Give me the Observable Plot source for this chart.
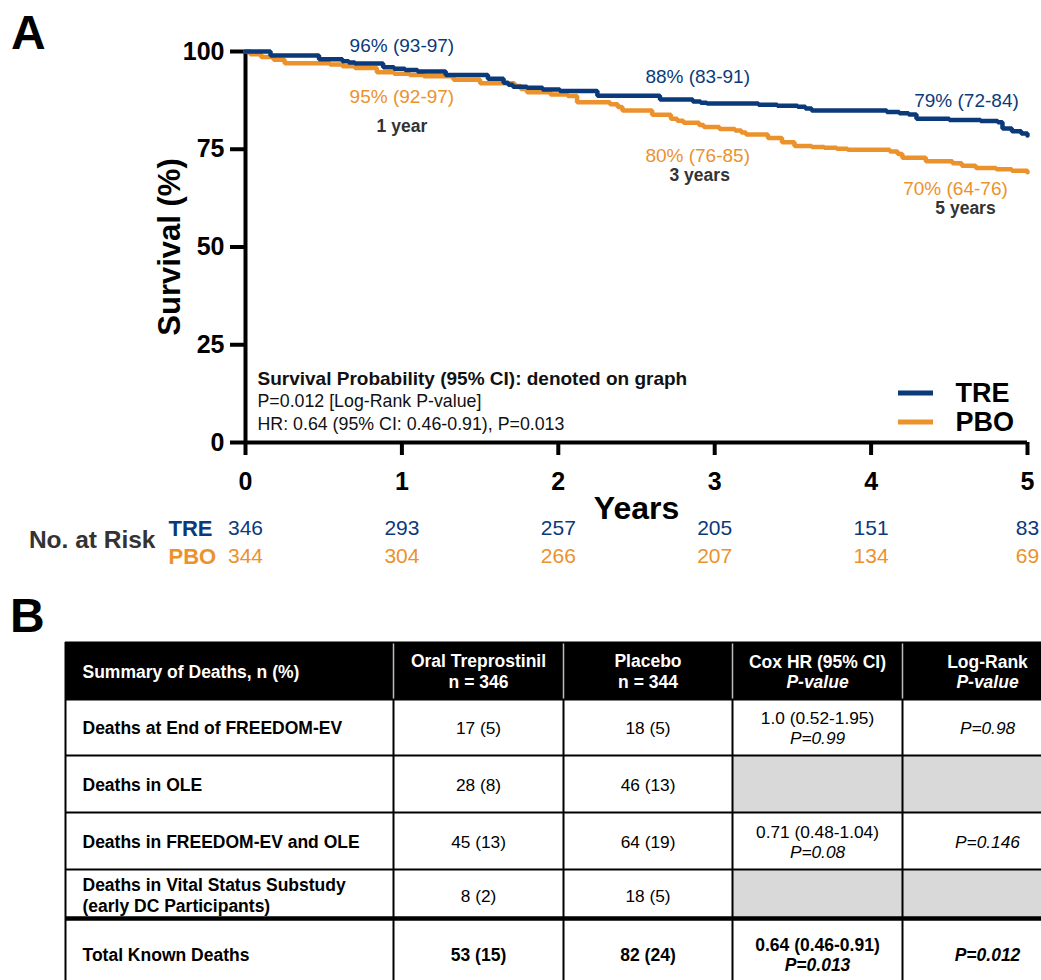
<!DOCTYPE html>
<html>
<head>
<meta charset="utf-8">
<script src="https://cdn.jsdelivr.net/npm/d3@7"></script>
<script src="https://cdn.jsdelivr.net/npm/@observablehq/plot@0.6"></script>
<style>
  html, body { margin: 0; padding: 0; background: #fff; overflow: hidden; }
  #wrap { position: relative; width: 1041px; height: 980px; overflow: hidden; font-family: "Liberation Sans", Arial, sans-serif; }
  .panel-letter { position: absolute; font-weight: bold; font-size: 48px; line-height: 1; color: #000; }
  #chartA, #chartB { position: absolute; left: 0; }
  #chartA { top: 0; }
  #chartB { top: 590px; }
  svg { overflow: hidden; }
</style>
</head>
<body>
<div id="wrap">
  <div id="chartA"></div>
  <div id="chartB"></div>
  <div class="panel-letter" style="left:11px; top:9px;">A</div>
  <div class="panel-letter" style="left:10px; top:592px;">B</div>
</div>
<script>
// ---------------- DATA ----------------
const arms = ["TRE", "PBO"];
const armColors = ["#0b3a7a", "#eb922d"];

// Kaplan–Meier curves (years, survival %)
const treTime = [0, 0.16, 0.47, 0.62, 0.66, 0.70, 0.88, 0.95, 1.02, 1.10, 1.28, 1.55, 1.65, 1.68, 1.71, 1.80, 1.90, 2.01, 2.25, 2.65, 2.86, 2.91, 2.95, 3.28, 3.40, 3.53, 3.58, 3.62, 4.10, 4.18, 4.24, 4.29, 4.50, 4.70, 4.81, 4.84, 4.90, 4.96, 5.0];
const treSurv = [100, 99.0, 98.0, 97.5, 97.2, 96.9, 96.0, 95.6, 95.3, 94.9, 94.0, 93.0, 92.0, 91.5, 91.0, 90.7, 90.3, 89.9, 88.7, 87.7, 87.2, 86.9, 86.7, 86.4, 86.1, 85.9, 85.4, 84.9, 84.5, 84.2, 83.9, 82.8, 82.5, 82.2, 81.9, 80.3, 79.6, 79.0, 78.5];
const pboTime = [0, 0.03, 0.10, 0.18, 0.25, 0.54, 0.62, 0.70, 0.84, 0.95, 1.05, 1.14, 1.33, 1.50, 1.72, 1.76, 1.80, 1.95, 2.06, 2.12, 2.33, 2.38, 2.41, 2.60, 2.72, 2.76, 2.80, 2.90, 2.93, 3.03, 3.13, 3.17, 3.20, 3.34, 3.43, 3.51, 3.62, 3.70, 3.78, 3.85, 4.12, 4.17, 4.20, 4.35, 4.52, 4.58, 4.67, 4.80, 4.90, 5.0];
const pboSurv = [100, 99.3, 98.6, 97.9, 97.0, 96.7, 96.2, 95.8, 94.7, 94.3, 94.0, 93.7, 92.8, 91.9, 91.2, 90.4, 89.6, 89.0, 88.6, 87.0, 86.5, 85.8, 84.9, 83.8, 82.8, 82.3, 81.8, 81.2, 80.7, 80.2, 79.8, 79.3, 78.8, 77.9, 76.8, 75.8, 75.6, 75.4, 75.1, 74.9, 74.4, 73.8, 72.8, 71.9, 71.4, 70.8, 70.2, 69.9, 69.5, 69.1];

// Landmark survival estimates (95% CI)
const landmarkYears = [1, 3, 5];
const landmarkNames = ["1 year", "3 years", "5 years"];
const treEst = [96, 88, 79], treLo = [93, 83, 72], treHi = [97, 91, 84];
const pboEst = [95, 80, 70], pboLo = [92, 76, 64], pboHi = [97, 85, 76];

// Axis ticks
const xTicks = [0, 1, 2, 3, 4, 5];
const yTicks = [0, 25, 50, 75, 100];

// Number at risk
const riskYears = [0, 1, 2, 3, 4, 5];
const treRisk = [346, 293, 257, 205, 151, 83];
const pboRisk = [344, 304, 266, 207, 134, 69];

// Statistics text
const statTitle = "Survival Probability (95% CI): denoted on graph";
const statLogRank = "P=0.012 [Log-Rank P-value]";
const statHR = "HR: 0.64 (95% CI: 0.46-0.91), P=0.013";

// Table B
const tableHeaders = ["Summary of Deaths, n (%)", "Oral Treprostinil", "Placebo", "Cox HR (95% CI)", "Log-Rank"];
const nTRE = 346, nPBO = 344;
const rowLabels = ["Deaths at End of FREEDOM-EV", "Deaths in OLE", "Deaths in FREEDOM-EV and OLE", "Deaths in Vital Status Substudy\n(early DC Participants)", "Total Known Deaths"];
const treDeaths = [17, 28, 45, 8, 53], trePct = [5, 8, 13, 2, 15];
const pboDeaths = [18, 46, 64, 18, 82], pboPct = [5, 13, 19, 5, 24];
const coxHR = ["1.0 (0.52-1.95)", null, "0.71 (0.48-1.04)", null, "0.64 (0.46-0.91)"];
const coxP = ["P=0.99", null, "P=0.08", null, "P=0.013"];
const logRankP = ["P=0.98", null, "P=0.146", null, "P=0.012"];

// ---------------- LAYOUT (pixels) ----------------
const W = 1041, HA = 590, HB = 390;
const mL = 245, mR = 14, mT = 51, mB = 148;
const frameR = W - mR, frameB = HA - mB;
const FONT = "'Liberation Sans', Arial, sans-serif";
const navy = armColors[0], orange = armColors[1];

// ---------------- PANEL A ----------------
const kmRows = [
  ...pboTime.map((t, i) => ({arm: "PBO", t, s: pboSurv[i]})),
  ...treTime.map((t, i) => ({arm: "TRE", t, s: treSurv[i]}))
];

const treLabelDx = [0, -17, -61], treLabelDy = [-21.5, -22, -33];
const pboLabelDx = [0, -17, -72], pboLabelDy = [25.5, 26, 20];
const yearLabelDx = [0, -15, -62], yearLabelDy = [55.5, 46, 40];

const landmarkMarks = [];
landmarkYears.forEach((yr, i) => {
  landmarkMarks.push(Plot.text([`${treEst[i]}% (${treLo[i]}-${treHi[i]})`], {
    x: () => yr, y: () => treEst[i], text: d => d, dx: treLabelDx[i], dy: treLabelDy[i],
    fill: navy, fontSize: 19, lineAnchor: "middle", textAnchor: "middle"
  }));
  landmarkMarks.push(Plot.text([`${pboEst[i]}% (${pboLo[i]}-${pboHi[i]})`], {
    x: () => yr, y: () => pboEst[i], text: d => d, dx: pboLabelDx[i], dy: pboLabelDy[i],
    fill: orange, fontSize: 19, lineAnchor: "middle", textAnchor: "middle"
  }));
  landmarkMarks.push(Plot.text([landmarkNames[i]], {
    x: () => yr, y: () => pboEst[i], text: d => d, dx: yearLabelDx[i], dy: yearLabelDy[i],
    fill: "#333", fontSize: 17.5, fontWeight: "bold", lineAnchor: "middle", textAnchor: "middle"
  }));
});

const riskRows = riskYears.map((yr, i) => ({yr, tre: treRisk[i], pbo: pboRisk[i]}));

function legendLines() {
  const g = d3.create("svg:g");
  const ys = [-49, -20];
  arms.forEach((a, i) => {
    g.append("line")
      .attr("x1", frameR - 129).attr("x2", frameR - 94)
      .attr("y1", frameB + ys[i]).attr("y2", frameB + ys[i])
      .attr("stroke", armColors[i]).attr("stroke-width", 5);
  });
  return g.node();
}

const chartA = Plot.plot({
  width: W, height: HA,
  marginLeft: mL, marginRight: mR, marginTop: mT, marginBottom: mB,
  style: {fontFamily: FONT, color: "#000", background: "transparent"},
  x: {domain: [0, 5]},
  y: {domain: [0, 100]},
  color: {domain: arms, range: armColors},
  marks: [
    Plot.axisY({ticks: yTicks, tickSize: 15, tickPadding: 6, fontSize: 25, fontWeight: "bold", strokeWidth: 4, label: null}),
    Plot.axisX({ticks: xTicks, tickSize: 13, tickPadding: 17, fontSize: 25, fontWeight: "bold", strokeWidth: 4, label: null, tickFormat: d => String(d)}),
    Plot.ruleX([0], {strokeWidth: 4}),
    Plot.ruleY([0], {strokeWidth: 4}),
    Plot.line(kmRows, {x: "t", y: "s", z: "arm", stroke: "arm", curve: "step-after", strokeWidth: 4.5, strokeLinejoin: "miter"}),
    ...landmarkMarks,
    // stats text
    Plot.text([statTitle], {frameAnchor: "bottom-left", dx: 12, dy: -64, textAnchor: "start", lineAnchor: "middle", fontWeight: "bold", fontSize: 19, fill: "#111"}),
    Plot.text([statLogRank], {frameAnchor: "bottom-left", dx: 12, dy: -41, textAnchor: "start", lineAnchor: "middle", fontSize: 17.8, fill: "#111"}),
    Plot.text([statHR], {frameAnchor: "bottom-left", dx: 12, dy: -18, textAnchor: "start", lineAnchor: "middle", fontSize: 17.8, fill: "#111"}),
    // legend
    legendLines,
    Plot.text([arms[0]], {frameAnchor: "bottom-right", dx: -72, dy: -49, textAnchor: "start", lineAnchor: "middle", fontWeight: "bold", fontSize: 27, fill: "#000"}),
    Plot.text([arms[1]], {frameAnchor: "bottom-right", dx: -72, dy: -20, textAnchor: "start", lineAnchor: "middle", fontWeight: "bold", fontSize: 27, fill: "#000"}),
    // axis titles
    Plot.text(["Survival (%)"], {frameAnchor: "left", dx: -75, rotate: -90, textAnchor: "middle", lineAnchor: "middle", fontWeight: "bold", fontSize: 31, fill: "#000"}),
    Plot.text(["Years"], {frameAnchor: "bottom", dy: 66, textAnchor: "middle", lineAnchor: "middle", fontWeight: "bold", fontSize: 32, fill: "#000"}),
    // number at risk
    Plot.text(["No. at Risk"], {frameAnchor: "bottom-left", dx: -90, dy: 98, textAnchor: "end", lineAnchor: "middle", fontWeight: "bold", fontSize: 24.5, fill: "#333"}),
    Plot.text([arms[0]], {frameAnchor: "bottom-left", dx: -77, dy: 86, textAnchor: "start", lineAnchor: "middle", fontWeight: "bold", fontSize: 22, fill: navy}),
    Plot.text([arms[1]], {frameAnchor: "bottom-left", dx: -77, dy: 114, textAnchor: "start", lineAnchor: "middle", fontWeight: "bold", fontSize: 22, fill: orange}),
    Plot.text(riskRows, {x: "yr", text: d => String(d.tre), frameAnchor: "bottom", dy: 86, textAnchor: "middle", lineAnchor: "middle", fontSize: 21, fill: navy}),
    Plot.text(riskRows, {x: "yr", text: d => String(d.pbo), frameAnchor: "bottom", dy: 114, textAnchor: "middle", lineAnchor: "middle", fontSize: 21, fill: orange})
  ]
});
document.getElementById("chartA").appendChild(chartA);

// ---------------- PANEL B (table) ----------------
const colW = [328, 170, 169, 170, 170];
const rowH = [57, 56, 57, 57, 49, 72];
const rowTextDy = [0, 0, 0, 0, 1, 0];
const tableLeft = 65, tableTop = 52;
const xE = [0, ...d3.cumsum(colW)];
const yE = [0, ...d3.cumsum(rowH)];
const totalW = xE[xE.length - 1], totalH = yE[yE.length - 1];
const grey = "#d9d9d9";

const cells = [];
for (let r = 0; r < rowH.length; r++) {
  for (let c = 0; c < colW.length; c++) {
    let fill = "#ffffff";
    if (r === 0) fill = "#000000";
    else if (c >= 3 && coxHR[r - 1] === null) fill = grey;
    cells.push({x1: xE[c], x2: xE[c + 1], y1: yE[r], y2: yE[r + 1], fill});
  }
}

const items = [];
function add(r, c, text, opts = {}) {
  items.push({r, c, text, bold: !!opts.bold, italic: !!opts.italic, fill: opts.fill || "#000", dy: opts.dy || 0});
}
// header
add(0, 0, tableHeaders[0], {bold: true, fill: "#fff"});
add(0, 1, `${tableHeaders[1]}\nn = ${nTRE}`, {bold: true, fill: "#fff"});
add(0, 2, `${tableHeaders[2]}\nn = ${nPBO}`, {bold: true, fill: "#fff"});
add(0, 3, tableHeaders[3], {bold: true, fill: "#fff", dy: -10});
add(0, 3, "P-value", {bold: true, italic: true, fill: "#fff", dy: 10});
add(0, 4, tableHeaders[4], {bold: true, fill: "#fff", dy: -10});
add(0, 4, "P-value", {bold: true, italic: true, fill: "#fff", dy: 10});
// body
rowLabels.forEach((lab, i) => {
  const r = i + 1, total = i === rowLabels.length - 1;
  add(r, 0, lab, {bold: true});
  add(r, 1, `${treDeaths[i]} (${trePct[i]})`, {bold: total});
  add(r, 2, `${pboDeaths[i]} (${pboPct[i]})`, {bold: total});
  if (coxHR[i] !== null) {
    add(r, 3, coxHR[i], {bold: total, dy: -10});
    add(r, 3, coxP[i], {bold: total, italic: true, dy: 10});
  }
  if (logRankP[i] !== null) add(r, 4, logRankP[i], {bold: total, italic: true});
});

// the last row is cut by the bottom of the picture: its text sits at the visible centre
const rowTextY = r => r === rowH.length - 1 ? yE[r] + 36 : (yE[r] + yE[r + 1]) / 2 + rowTextDy[r];

const textMarks = items.map(it => Plot.text([it], {
  x: d => d.c === 0 ? xE[0] : (xE[d.c] + xE[d.c + 1]) / 2,
  y: d => rowTextY(d.r),
  text: "text",
  dx: it.c === 0 ? 17 : 0,
  dy: it.dy,
  textAnchor: it.c === 0 ? "start" : "middle",
  lineAnchor: "middle",
  lineHeight: 1.2,
  fontSize: it.bold ? 17.5 : 17.3,
  fontWeight: it.bold ? "bold" : "normal",
  fontStyle: it.italic ? "italic" : "normal",
  fill: it.fill
}));

const chartB = Plot.plot({
  width: W, height: HB, margin: 0,
  style: {fontFamily: FONT, color: "#000", background: "transparent"},
  x: {type: "linear", domain: [0, totalW], range: [tableLeft, tableLeft + totalW], axis: null},
  y: {type: "linear", domain: [0, totalH], range: [tableTop, tableTop + totalH], axis: null},
  marks: [
    Plot.rect(cells, {x1: "x1", x2: "x2", y1: "y1", y2: "y2", fill: d => d.fill}),
    // header dividers (light)
    Plot.ruleX(xE.slice(1, -1), {y1: yE[0], y2: yE[1], stroke: "#bdbdbd", strokeWidth: 1.5}),
    // body dividers
    Plot.ruleX(xE.slice(1, -1), {y1: yE[1], y2: totalH, stroke: "#000", strokeWidth: 2}),
    Plot.ruleX([0], {y1: 0, y2: totalH, stroke: "#000", strokeWidth: 2}),
    Plot.ruleY(yE.filter((_, i) => i !== 5), {x1: 0, x2: totalW, stroke: "#000", strokeWidth: 2}),
    Plot.ruleY([yE[5]], {x1: 0, x2: totalW, stroke: "#000", strokeWidth: 4.5}),
    ...textMarks
  ]
});
document.getElementById("chartB").appendChild(chartB);
</script>
</body>
</html>
